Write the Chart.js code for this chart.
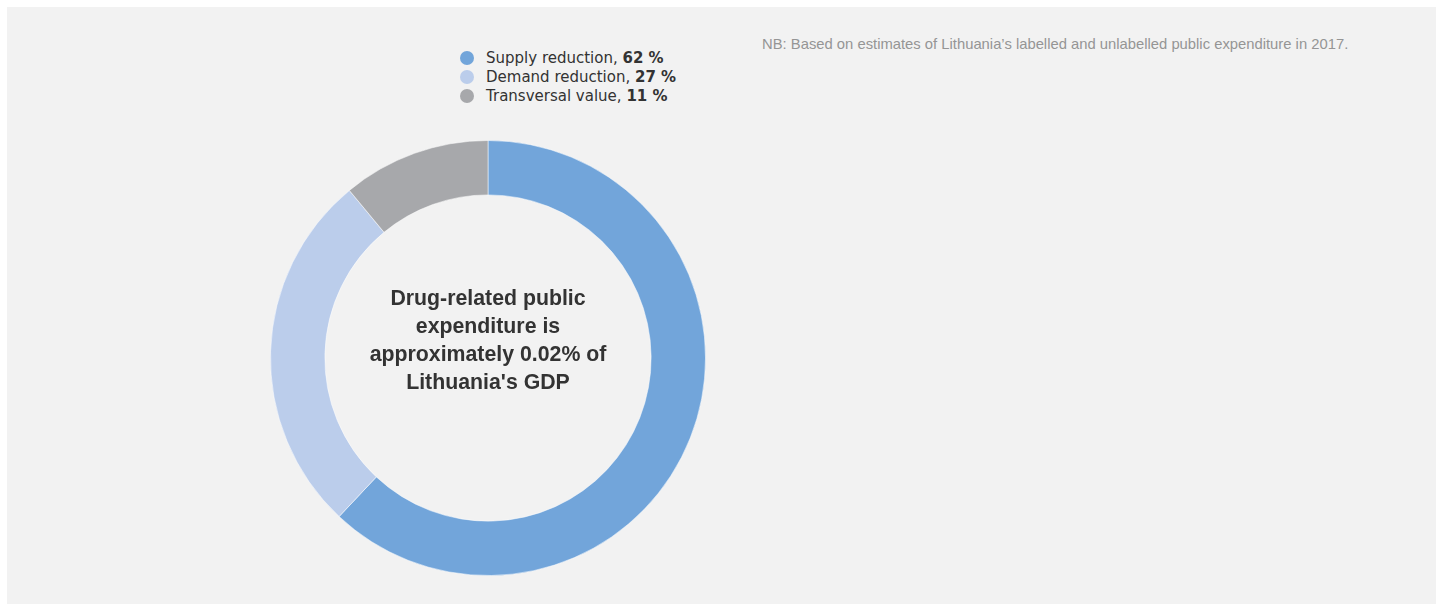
<!DOCTYPE html>
<html>
<head>
<meta charset="utf-8">
<script src="https://cdn.jsdelivr.net/npm/chart.js@4.4.1/dist/chart.umd.min.js"></script>
<style>
  html, body { margin: 0; padding: 0; background: #ffffff; width: 1443px; height: 606px; overflow: hidden; }
  #panel { position: absolute; left: 7px; top: 7px; width: 1429px; height: 597px; background: #f2f2f2; }
  #chartBox { position: absolute; left: 270px; top: 140px; width: 436px; height: 436px; }
  #legend { position: absolute; left: 460px; top: 49px; font-family: "DejaVu Sans", sans-serif; font-size: 15px; color: #333; }
  #legend .row { height: 19px; line-height: 19px; white-space: nowrap; position: relative; padding-left: 26px; }
  #legend .dot { position: absolute; left: 0; top: 2px; width: 14px; height: 14px; border-radius: 50%; }
  #note { position: absolute; left: 762px; top: 36px; font-family: "Liberation Sans", Arial, sans-serif; font-size: 14.8px; color: #959595; white-space: nowrap; }
  #center { position: absolute; left: 318px; top: 284px; width: 340px; text-align: center; font-family: "Liberation Sans", Arial, sans-serif; font-weight: bold; font-size: 21.3px; line-height: 28px; color: #333; }
</style>
</head>
<body>
<div id="panel"></div>
<div id="note">NB: Based on estimates of Lithuania’s labelled and unlabelled public expenditure in 2017.</div>
<div id="legend"></div>
<div id="chartBox"><canvas id="c"></canvas></div>
<div id="center">Drug-related public<br>expenditure is<br>approximately 0.02% of<br>Lithuania's GDP</div>
<script>
const categories = ["Supply reduction", "Demand reduction", "Transversal value"];
const shares = [62, 27, 11];
const colors = ["#72a5da", "#bbcdeb", "#a7a8ab"];

const legend = document.getElementById('legend');
categories.forEach((c, i) => {
  const row = document.createElement('div');
  row.className = 'row';
  const dot = document.createElement('span');
  dot.className = 'dot';
  dot.style.background = colors[i];
  row.appendChild(dot);
  row.appendChild(document.createTextNode(c + ', '));
  const b = document.createElement('b');
  b.textContent = shares[i] + ' %';
  row.appendChild(b);
  legend.appendChild(row);
});

new Chart(document.getElementById('c'), {
  type: 'doughnut',
  data: {
    labels: categories,
    datasets: [{
      data: shares,
      backgroundColor: colors,
      borderColor: 'rgba(255,255,255,0.5)',
      borderWidth: 1,
      hoverOffset: 0
    }]
  },
  options: {
    responsive: true,
    maintainAspectRatio: false,
    animation: false,
    cutout: '75%',
    layout: { padding: 0 },
    plugins: { legend: { display: false }, tooltip: { enabled: false } }
  }
});
</script>
</body>
</html>
